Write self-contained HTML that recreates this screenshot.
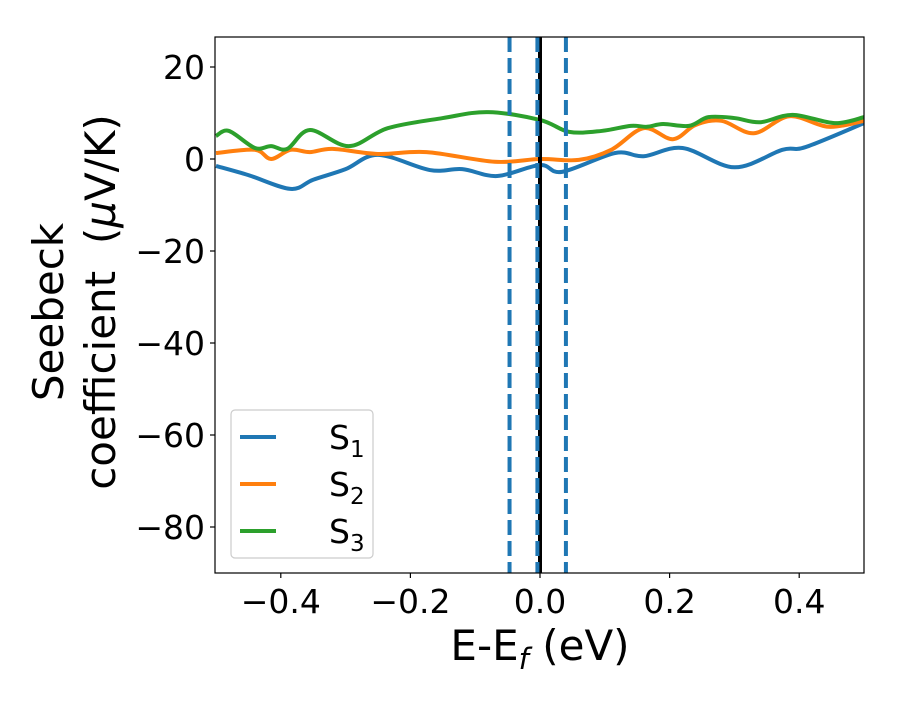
<!DOCTYPE html>
<html><head><meta charset="utf-8"><style>
body{margin:0;background:#fff}
svg text{font-family:"DejaVu Sans","Liberation Sans",sans-serif;fill:#000}
</style></head><body>
<svg id="c" width="900" height="700" xmlns="http://www.w3.org/2000/svg"></svg>
<script>
const xS1=[-0.5,-0.45,-0.385,-0.35,-0.3,-0.25,-0.17,-0.12,-0.066,0,0.034,0.116,0.16,0.22,0.3,0.374,0.41,0.5];
const yS1=[-1.5,-3.5,-6.5,-4.5,-2.2,0.9,-2.4,-2.2,-3.7,-1.3,-2.8,1.3,0.6,2.4,-1.8,2,2.6,7.8];
const xS2=[-0.5,-0.44,-0.415,-0.385,-0.355,-0.32,-0.25,-0.175,-0.07,0,0.06,0.11,0.16,0.205,0.24,0.28,0.33,0.385,0.445,0.5];
const yS2=[1.3,2,0,2,1.5,2.2,1.1,1.5,-0.6,0,-0.2,2,6.7,4.3,7.4,8.3,5.6,9.3,7,8.3];
const xS3=[-0.5,-0.48,-0.44,-0.415,-0.39,-0.355,-0.295,-0.235,-0.15,-0.08,0,0.045,0.095,0.14,0.165,0.19,0.23,0.26,0.3,0.34,0.39,0.455,0.5];
const yS3=[5,6.1,2.4,2.8,2.2,6.3,2.8,6.7,8.9,10.2,8.5,5.9,6.1,7.2,7,7.6,7.2,9.1,8.9,8,9.6,7.8,9.1];
const xTicks=[-0.4,-0.2,0.0,0.2,0.4];
const xTickLabels=["\u22120.4","\u22120.2","0.0","0.2","0.4"];
const yTicks=[20,0,-20,-40,-60,-80];
const yTickLabels=["20","0","\u221220","\u221240","\u221260","\u221280"];
const dashedLines=[-0.047,0.04];
const solidLines=[0];
const L=215,R=864,T=37,B=573;
const X=v=>540+(v)*648;
const Y=v=>159-v*4.6;
const svg=document.getElementById('c');
const NS='http://www.w3.org/2000/svg';
function mk(t,a,p){const e=document.createElementNS(NS,t);for(const k in a)e.setAttribute(k,a[k]);(p||svg).appendChild(e);return e;}
function path(xs,ys){const p=xs.map((x,i)=>[X(x),Y(ys[i])]);let d='M'+p[0][0]+','+p[0][1];
for(let i=0;i<p.length-1;i++){const p0=p[i-1]||p[i],p1=p[i],p2=p[i+1],p3=p[i+2]||p2;
d+=' C'+(p1[0]+(p2[0]-p0[0])/6)+','+(p1[1]+(p2[1]-p0[1])/6)+' '+(p2[0]-(p3[0]-p1[0])/6)+','+(p2[1]-(p3[1]-p1[1])/6)+' '+p2[0]+','+p2[1];}return d;}
mk('clipPath',{id:'cp'}).appendChild(document.createElementNS(NS,'rect'));
const cr=svg.querySelector('#cp rect');cr.setAttribute('x',L);cr.setAttribute('y',T);cr.setAttribute('width',R-L);cr.setAttribute('height',B-T);
const g=mk('g',{'clip-path':'url(#cp)'});
const series=[[xS1,yS1,'#1f77b4','series-s1'],[xS2,yS2,'#ff7f0e','series-s2'],[xS3,yS3,'#2ca02c','series-s3']];
series.forEach(s=>{const e=mk('path',{d:path(s[0],s[1]),fill:'none',stroke:s[2],'stroke-width':4},g);

});
solidLines.forEach(v=>{const e=mk('line',{x1:X(v),x2:X(v),y1:T,y2:B,stroke:'#000','stroke-width':4},g);

});
[-0.004].concat(dashedLines).forEach(v=>{const e=mk('line',{x1:X(v),x2:X(v),y1:T,y2:B,stroke:'#1f77b4','stroke-width':4,'stroke-dasharray':'15,6'},g);

});
const fr=mk('rect',{x:L,y:T,width:R-L,height:B-T,fill:'none',stroke:'#000','stroke-width':1.2});


xTicks.forEach((v,i)=>{mk('line',{x1:X(v),x2:X(v),y1:B,y2:B+5,stroke:'#000','stroke-width':1.2});
const t=mk('text',{x:X(v),y:B+40,'font-size':33,'text-anchor':'middle'});t.textContent=xTickLabels[i];

});
yTicks.forEach((v,i)=>{mk('line',{x1:L-5,x2:L,y1:Y(v),y2:Y(v),stroke:'#000','stroke-width':1.2});
const t=mk('text',{x:L-10,y:Y(v)+12,'font-size':33,'text-anchor':'end'});t.textContent=yTickLabels[i];

});
</script>
<svg width="900" height="700" style="position:absolute;left:0;top:0" xmlns="http://www.w3.org/2000/svg">
<text x="540" y="660" font-size="42" text-anchor="middle">E-E<tspan font-size="29" dy="9" font-style="italic">f</tspan><tspan dy="-9"> (eV)</tspan></text>
<g font-size="42">
<text x="63" y="312" transform="rotate(-90 63 312)" text-anchor="middle">Seebeck</text>
<text x="115" y="302" transform="rotate(-90 115 302)" text-anchor="middle">coefficient&#160; (<tspan font-style="italic">μ</tspan>V/K)</text>
</g>
<g>
<rect x="231" y="410" width="142" height="148" rx="4" fill="#fff" stroke="#ccc" stroke-width="1.2"/>
<line x1="240" x2="276" y1="437" y2="437" stroke="#1f77b4" stroke-width="4"/>
<text x="329" y="449" font-size="33">S<tspan font-size="23" dy="8">1</tspan></text>
<line x1="240" x2="276" y1="484" y2="484" stroke="#ff7f0e" stroke-width="4"/>
<text x="329" y="496" font-size="33">S<tspan font-size="23" dy="8">2</tspan></text>
<line x1="240" x2="276" y1="531" y2="531" stroke="#2ca02c" stroke-width="4"/>
<text x="329" y="543" font-size="33">S<tspan font-size="23" dy="8">3</tspan></text>
</g>
</svg>
</body></html>
